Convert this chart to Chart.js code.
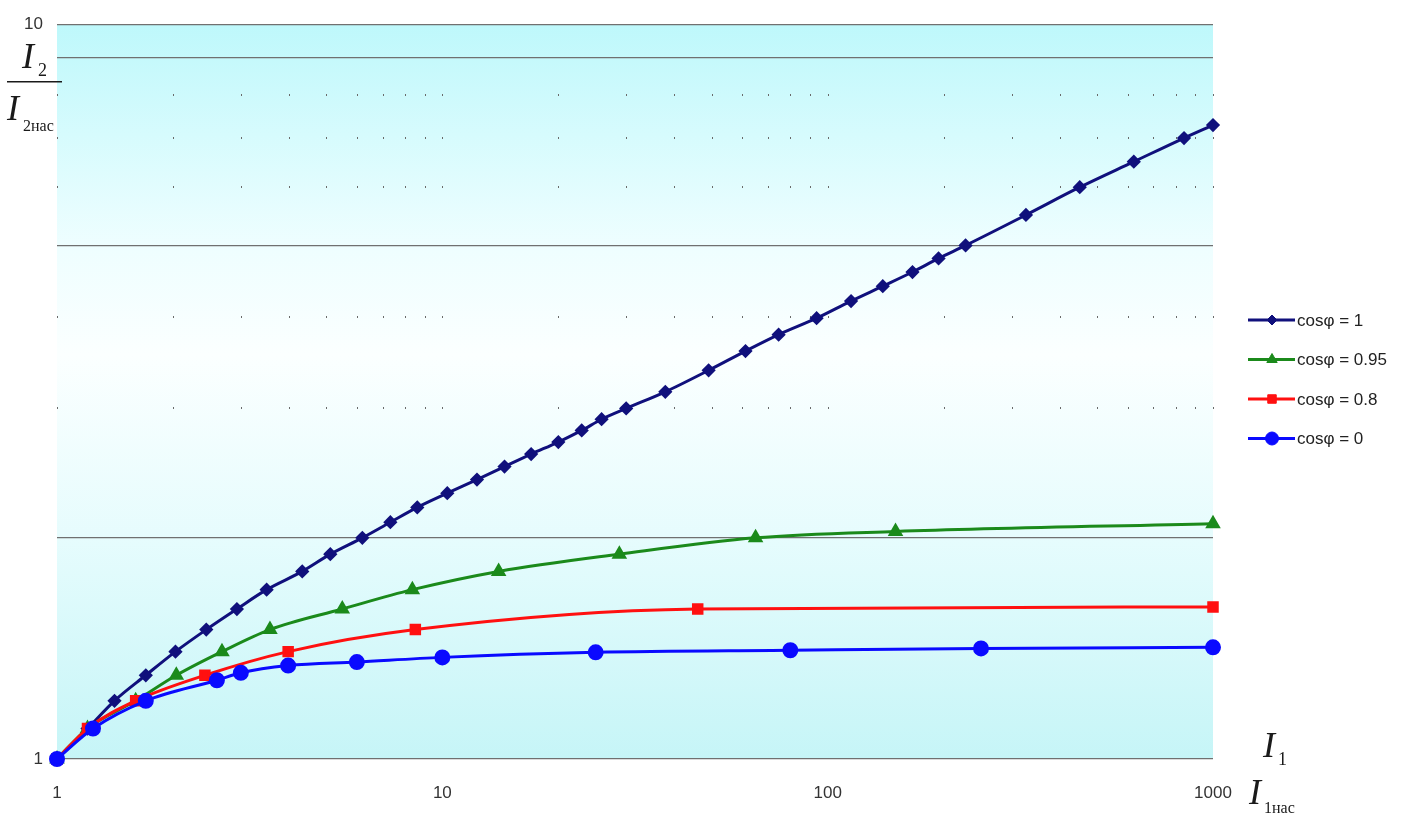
<!DOCTYPE html>
<html>
<head>
<meta charset="utf-8">
<script src="https://cdn.jsdelivr.net/npm/chart.js@4/dist/chart.umd.min.js"></script>
<style>
  html, body { margin: 0; padding: 0; background: #fff; }
  #wrap { width: 1403px; height: 814px; position: relative; }
</style>
</head>
<body>
<div id="wrap"><canvas id="chartCanvas"></canvas></div>
<script>
// I1/I1нас (x) and I2/I2нас (y), one pair of arrays per curve
const seriesLabels = ['cosφ = 1', 'cosφ = 0.95', 'cosφ = 0.8', 'cosφ = 0'];

const xCos1 = [1, 1.2, 1.41, 1.7, 2.03, 2.44, 2.93, 3.5, 4.33, 5.12, 6.2, 7.33, 8.61, 10.3, 12.3, 14.5, 17, 20, 23, 25.9,
  30, 37.9, 49.1, 61.2, 74.6, 93.6, 115, 139, 166, 194, 228, 327, 451, 623, 841, 1000];
const yCos1 = [1, 1.1, 1.2, 1.3, 1.4, 1.5, 1.6, 1.7, 1.8, 1.9, 2.0, 2.1, 2.2, 2.3, 2.4, 2.5, 2.6, 2.7, 2.8, 2.9,
  3.0, 3.16, 3.38, 3.59, 3.78, 3.98, 4.2, 4.4, 4.6, 4.8, 5.0, 5.5, 6.0, 6.5, 7.0, 7.29];

const xCos095 = [1, 1.2, 1.6, 2.04, 2.68, 3.57, 5.5, 8.36, 14.0, 28.8, 65, 150, 1000];
const yCos095 = [1, 1.1, 1.2, 1.3, 1.4, 1.5, 1.6, 1.7, 1.8, 1.9, 2.0, 2.04, 2.09];

const xCos08 = [1, 1.2, 1.6, 2.42, 3.98, 8.51, 46, 1000];
const yCos08 = [1, 1.1, 1.2, 1.3, 1.4, 1.5, 1.6, 1.61];

const xCos0 = [1, 1.24, 1.7, 2.6, 3.0, 3.98, 6.0, 10, 25, 80, 250, 1000];
const yCos0 = [1, 1.1, 1.2, 1.28, 1.31, 1.34, 1.355, 1.375, 1.397, 1.406, 1.414, 1.419];

// tick values
const xTicks = [1, 2, 3, 4, 5, 6, 7, 8, 9, 10, 20, 30, 40, 50, 60, 70, 80, 90, 100,
  200, 300, 400, 500, 600, 700, 800, 900, 1000];
const xLabels = [1, 10, 100, 1000];
const yTicks = [1, 2, 3, 4, 5, 6, 7, 8, 9, 10];
const yLabels = [1, 10];
const ySolidGrid = [1, 2, 5, 9, 10];
const yDottedGrid = [3, 4, 6, 7, 8];

const toPoints = (xs, ys) => xs.map((x, i) => ({ x: x, y: ys[i] }));

const colors = ['#10107c', '#1b8a1b', '#ff1010', '#0a0aff'];
const markers = ['rectRot', 'triangle', 'rect', 'circle'];
const radii = [5, 6, 6, 6.5];

const curves = [[xCos1, yCos1], [xCos095, yCos095], [xCos08, yCos08], [xCos0, yCos0]];

const datasets = curves.map((c, i) => ({
  label: seriesLabels[i],
  data: toPoints(c[0], c[1]),
  borderColor: colors[i],
  backgroundColor: colors[i],
  pointBackgroundColor: colors[i],
  pointBorderColor: colors[i],
  pointStyle: markers[i],
  pointRadius: radii[i],
  borderWidth: 3,
  cubicInterpolationMode: 'monotone',
  clip: false,
  order: 4 - i
}));

// cyan panel behind the plot
const panelBg = {
  id: 'panelBg',
  beforeDraw(chart) {
    const { ctx, chartArea: a } = chart;
    ctx.save();
    ctx.fillStyle = '#fff';
    ctx.fillRect(0, 0, chart.width, chart.height);
    const g = ctx.createLinearGradient(0, a.top, 0, a.bottom);
    g.addColorStop(0, '#bef8fb');
    g.addColorStop(0.3, '#eefeff');
    g.addColorStop(0.45, '#fbffff');
    g.addColorStop(0.7, '#e6fcfd');
    g.addColorStop(1, '#c6f5f7');
    ctx.fillStyle = g;
    ctx.fillRect(a.left, a.top, a.right - a.left, a.bottom - a.top);
    ctx.restore();
  }
};

// dotted minor grid: tiny dots where minor x ticks meet minor y lines
const minorDots = {
  id: 'minorDots',
  beforeDatasetsDraw(chart) {
    const { ctx, scales } = chart;
    ctx.save();
    ctx.fillStyle = '#6a6a6a';
    yDottedGrid.forEach(yv => {
      const py = Math.round(scales.y.getPixelForValue(yv));
      xTicks.forEach(xv => {
        const px = Math.round(scales.x.getPixelForValue(xv));
        ctx.fillRect(px, py - 1, 1, 2);
      });
    });
    ctx.restore();
  }
};

// legend: line sample with marker, like the spreadsheet legend
const sideLegend = {
  id: 'sideLegend',
  afterDraw(chart) {
    const { ctx } = chart;
    ctx.save();
    chart.data.datasets.forEach((ds, i) => {
      const y = 320 + i * 39.5;
      ctx.strokeStyle = ds.borderColor;
      ctx.lineWidth = 3;
      ctx.beginPath();
      ctx.moveTo(1248, y);
      ctx.lineTo(1295, y);
      ctx.stroke();
      ctx.fillStyle = ds.pointBackgroundColor;
      ctx.strokeStyle = ds.pointBorderColor;
      ctx.lineWidth = 1;
      Chart.helpers.drawPoint(ctx, { pointStyle: ds.pointStyle, radius: ds.pointRadius, rotation: 0, borderWidth: 1 }, 1272, y);
      ctx.fillStyle = '#222';
      ctx.font = '17px "Liberation Sans", Arial, sans-serif';
      ctx.textBaseline = 'middle';
      ctx.textAlign = 'left';
      ctx.fillText(ds.label, 1297, y + 1);
    });
    ctx.restore();
  }
};

// axis titles written as fractions I2/I2нас and I1/I1нас
const axisTitles = {
  id: 'axisTitles',
  afterDraw(chart) {
    const { ctx } = chart;
    ctx.save();
    ctx.fillStyle = '#1a1a1a';
    ctx.textBaseline = 'alphabetic';
    ctx.textAlign = 'left';
    const big = 'italic 36px "Liberation Serif", "Times New Roman", serif';
    const sub = '18px "Liberation Serif", "Times New Roman", serif';
    const subSmall = '16px "Liberation Serif", "Times New Roman", serif';

    // top left: I2 over I2нас
    ctx.font = big; ctx.fillText('I', 22, 68);
    ctx.font = sub; ctx.fillText('2', 38, 76);
    ctx.fillRect(7, 81, 55, 1.5);
    ctx.font = big; ctx.fillText('I', 7, 120);
    ctx.font = subSmall; ctx.fillText('2нас', 23, 131);

    // bottom right: I1 and I1нас
    ctx.font = big; ctx.fillText('I', 1263, 757);
    ctx.font = sub; ctx.fillText('1', 1278, 765);
    ctx.font = big; ctx.fillText('I', 1249, 804);
    ctx.font = subSmall; ctx.fillText('1нас', 1264, 813);
    ctx.restore();
  }
};

new Chart(document.getElementById('chartCanvas'), {
  type: 'line',
  data: { datasets: datasets },
  options: {
    responsive: true,
    maintainAspectRatio: false,
    animation: false,
    layout: { padding: { top: 20, right: 190, left: 0, bottom: 0 } },
    plugins: {
      legend: { display: false },
      tooltip: { enabled: false }
    },
    scales: {
      x: {
        type: 'logarithmic',
        min: 1,
        max: 1000,
        border: { display: false },
        grid: { display: false, drawTicks: false },
        afterBuildTicks: s => { s.ticks = xTicks.map(v => ({ value: v })); },
        afterFit: s => { s.height = 55; },
        ticks: {
          autoSkip: false,
          maxRotation: 0,
          padding: 24,
          color: '#333',
          font: { family: '"Liberation Sans", Arial, sans-serif', size: 17 },
          callback: v => (xLabels.includes(v) ? String(v) : '')
        }
      },
      y: {
        type: 'logarithmic',
        min: 1,
        max: 10,
        border: { display: false },
        grid: {
          drawTicks: false,
          lineWidth: 1.3,
          color: c => (ySolidGrid.includes(c.tick.value) ? '#707070' : 'rgba(0,0,0,0)')
        },
        afterBuildTicks: s => { s.ticks = yTicks.map(v => ({ value: v })); },
        afterFit: s => { s.width = 57; },
        ticks: {
          autoSkip: false,
          padding: 14,
          color: '#333',
          font: { family: '"Liberation Sans", Arial, sans-serif', size: 17 },
          callback: v => (yLabels.includes(v) ? String(v) : '')
        }
      }
    }
  },
  plugins: [panelBg, minorDots, sideLegend, axisTitles]
});
</script>
</body>
</html>
